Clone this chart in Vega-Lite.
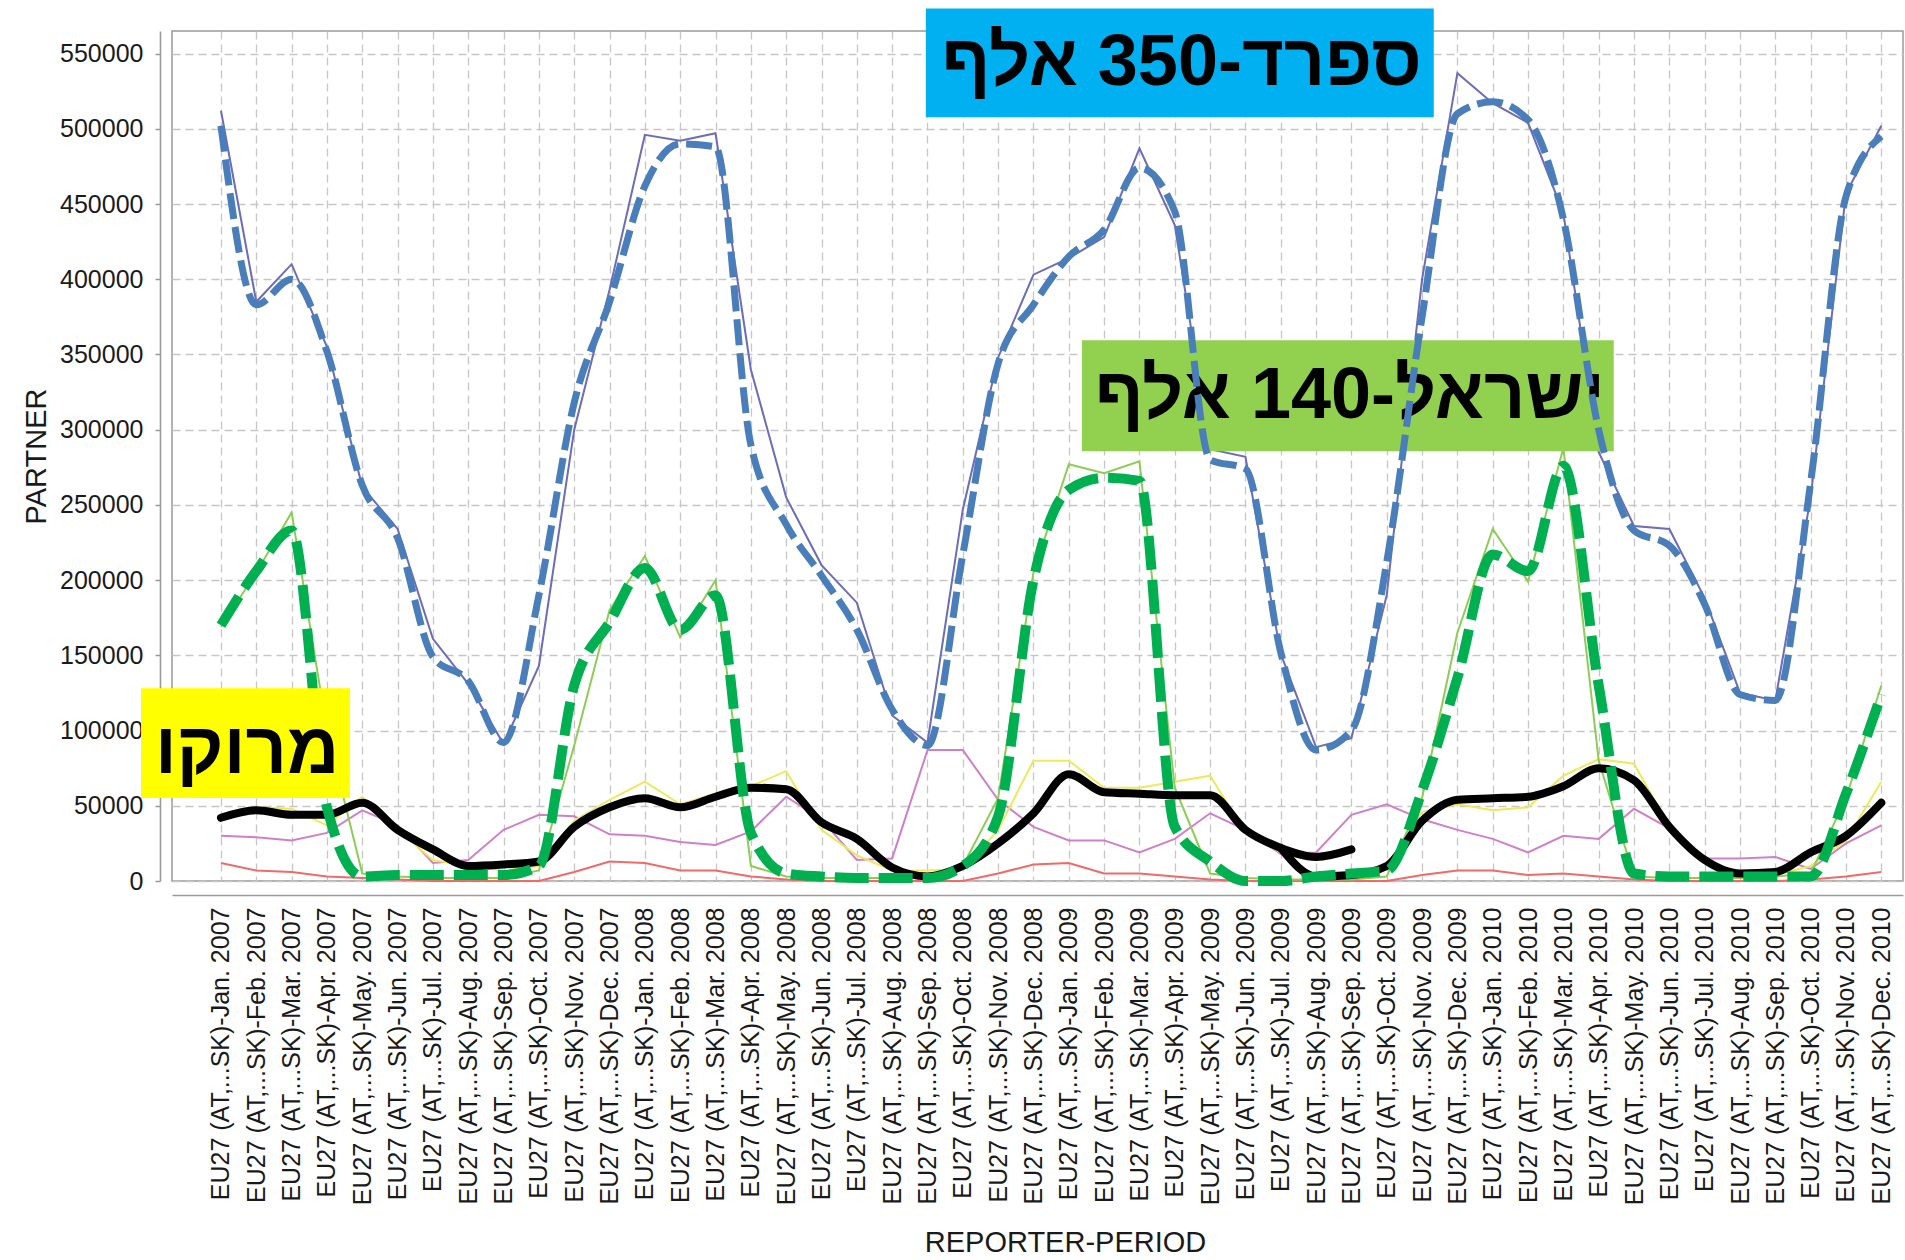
{
  "$schema": "https://vega.github.io/schema/vega-lite/v6.json",
  "width": 1731,
  "height": 850,
  "autosize": {"type": "none"},
  "padding": {"left": 172, "top": 31, "right": 2, "bottom": 379},
  "background": "white",
  "config": {
    "font": "Liberation Sans, Arial, DejaVu Sans, sans-serif",
    "view": {"stroke": "#9a9a9a", "strokeWidth": 1.5},
    "axis": {
      "labelFont": "Liberation Sans, Arial, sans-serif",
      "titleFont": "Liberation Sans, Arial, sans-serif",
      "titleFontWeight": "normal",
      "gridColor": "#c6c6c6",
      "gridDash": [8, 5],
      "gridWidth": 1.3,
      "domainColor": "#9a9a9a",
      "domainWidth": 1.6,
      "tickColor": "#9a9a9a",
      "tickWidth": 1.5,
      "labelColor": "#1a1a1a",
      "titleColor": "#1a1a1a"
    }
  },
  "datasets": {
    "months": [
      {"period": "EU27 (AT,...SK)-Jan. 2007", "es": 512000, "es_d": 502000, "il": 169000, "il_d": 170000, "ma": 42000, "ma2": null, "yel": 43000, "pink": 30000, "red": 12000},
      {"period": "EU27 (AT,...SK)-Feb. 2007", "es": 385000, "es_d": 383000, "il": 205000, "il_d": 206000, "ma": 47000, "ma2": null, "yel": 49000, "pink": 29000, "red": 7000},
      {"period": "EU27 (AT,...SK)-Mar. 2007", "es": 410000, "es_d": 400000, "il": 245000, "il_d": 233000, "ma": 44000, "ma2": null, "yel": 48000, "pink": 27000, "red": 6000},
      {"period": "EU27 (AT,...SK)-Apr. 2007", "es": 355000, "es_d": 352000, "il": 100000, "il_d": 49000, "ma": 44000, "ma2": null, "yel": 37000, "pink": 32000, "red": 3000},
      {"period": "EU27 (AT,...SK)-May. 2007", "es": 262000, "es_d": 263000, "il": 5000, "il_d": 3000, "ma": 52000, "ma2": null, "yel": 56000, "pink": 47000, "red": 2000},
      {"period": "EU27 (AT,...SK)-Jun. 2007", "es": 234000, "es_d": 228000, "il": 3000, "il_d": 4000, "ma": 34000, "ma2": null, "yel": 34000, "pink": 37000, "red": 1000},
      {"period": "EU27 (AT,...SK)-Jul. 2007", "es": 161000, "es_d": 149000, "il": 2000, "il_d": 4000, "ma": 21000, "ma2": null, "yel": 14000, "pink": 12000, "red": 0},
      {"period": "EU27 (AT,...SK)-Aug. 2007", "es": 131000, "es_d": 133000, "il": 2000, "il_d": 4000, "ma": 10000, "ma2": null, "yel": 10000, "pink": 14000, "red": 0},
      {"period": "EU27 (AT,...SK)-Sep. 2007", "es": 91000, "es_d": 92000, "il": 2000, "il_d": 4000, "ma": 11000, "ma2": null, "yel": 7000, "pink": 34000, "red": 0},
      {"period": "EU27 (AT,...SK)-Oct. 2007", "es": 143000, "es_d": 190000, "il": 7000, "il_d": 10000, "ma": 13000, "ma2": null, "yel": 10000, "pink": 44000, "red": 0},
      {"period": "EU27 (AT,...SK)-Nov. 2007", "es": 300000, "es_d": 318000, "il": 90000, "il_d": 130000, "ma": 36000, "ma2": null, "yel": 40000, "pink": 43000, "red": 6000},
      {"period": "EU27 (AT,...SK)-Dec. 2007", "es": 393000, "es_d": 385000, "il": 180000, "il_d": 172000, "ma": 49000, "ma2": null, "yel": 54000, "pink": 31000, "red": 13000},
      {"period": "EU27 (AT,...SK)-Jan. 2008", "es": 496000, "es_d": 462000, "il": 216000, "il_d": 208000, "ma": 55000, "ma2": null, "yel": 66000, "pink": 30000, "red": 12000},
      {"period": "EU27 (AT,...SK)-Feb. 2008", "es": 492000, "es_d": 490000, "il": 162000, "il_d": 167000, "ma": 49000, "ma2": null, "yel": 51000, "pink": 26000, "red": 7000},
      {"period": "EU27 (AT,...SK)-Mar. 2008", "es": 497000, "es_d": 488000, "il": 200000, "il_d": 190000, "ma": 56000, "ma2": null, "yel": 58000, "pink": 24000, "red": 7000},
      {"period": "EU27 (AT,...SK)-Apr. 2008", "es": 340000, "es_d": 290000, "il": 10000, "il_d": 32000, "ma": 62000, "ma2": null, "yel": 63000, "pink": 33000, "red": 3000},
      {"period": "EU27 (AT,...SK)-May. 2008", "es": 255000, "es_d": 237000, "il": 3000, "il_d": 5000, "ma": 61000, "ma2": null, "yel": 73000, "pink": 56000, "red": 1000},
      {"period": "EU27 (AT,...SK)-Jun. 2008", "es": 210000, "es_d": 203000, "il": 2000, "il_d": 3000, "ma": 39000, "ma2": null, "yel": 34000, "pink": 41000, "red": 0},
      {"period": "EU27 (AT,...SK)-Jul. 2008", "es": 185000, "es_d": 167000, "il": 2000, "il_d": 2000, "ma": 28000, "ma2": null, "yel": 17000, "pink": 14000, "red": 0},
      {"period": "EU27 (AT,...SK)-Aug. 2008", "es": 110000, "es_d": 114000, "il": 2000, "il_d": 2000, "ma": 9000, "ma2": null, "yel": 7000, "pink": 15000, "red": 0},
      {"period": "EU27 (AT,...SK)-Sep. 2008", "es": 92000, "es_d": 90000, "il": 3000, "il_d": 2000, "ma": 3000, "ma2": null, "yel": 7000, "pink": 87000, "red": 0},
      {"period": "EU27 (AT,...SK)-Oct. 2008", "es": 247000, "es_d": 217000, "il": 10000, "il_d": 10000, "ma": 10000, "ma2": null, "yel": 8000, "pink": 87000, "red": 0},
      {"period": "EU27 (AT,...SK)-Nov. 2008", "es": 348000, "es_d": 344000, "il": 55000, "il_d": 43000, "ma": 25000, "ma2": null, "yel": 34000, "pink": 54000, "red": 5000},
      {"period": "EU27 (AT,...SK)-Dec. 2008", "es": 403000, "es_d": 383000, "il": 205000, "il_d": 200000, "ma": 45000, "ma2": null, "yel": 80000, "pink": 36000, "red": 11000},
      {"period": "EU27 (AT,...SK)-Jan. 2009", "es": 414000, "es_d": 415000, "il": 277000, "il_d": 260000, "ma": 71000, "ma2": null, "yel": 80000, "pink": 27000, "red": 12000},
      {"period": "EU27 (AT,...SK)-Feb. 2009", "es": 428000, "es_d": 433000, "il": 271000, "il_d": 268000, "ma": 59000, "ma2": null, "yel": 62000, "pink": 27000, "red": 5000},
      {"period": "EU27 (AT,...SK)-Mar. 2009", "es": 487000, "es_d": 474000, "il": 279000, "il_d": 266000, "ma": 58000, "ma2": null, "yel": 62000, "pink": 19000, "red": 5000},
      {"period": "EU27 (AT,...SK)-Apr. 2009", "es": 436000, "es_d": 445000, "il": 62000, "il_d": 36000, "ma": 57000, "ma2": null, "yel": 66000, "pink": 28000, "red": 3000},
      {"period": "EU27 (AT,...SK)-May. 2009", "es": 287000, "es_d": 280000, "il": 5000, "il_d": 13000, "ma": 57000, "ma2": null, "yel": 70000, "pink": 45000, "red": 1000},
      {"period": "EU27 (AT,...SK)-Jun. 2009", "es": 282000, "es_d": 274000, "il": 2000, "il_d": 0, "ma": 34000, "ma2": null, "yel": 32000, "pink": 34000, "red": 0},
      {"period": "EU27 (AT,...SK)-Jul. 2009", "es": 151000, "es_d": 152000, "il": 1000, "il_d": 0, "ma": 22000, "ma2": 22000, "yel": 19000, "pink": 18000, "red": 0},
      {"period": "EU27 (AT,...SK)-Aug. 2009", "es": 89000, "es_d": 87000, "il": 1000, "il_d": 3000, "ma": 16000, "ma2": 3000, "yel": 3000, "pink": 19000, "red": 0},
      {"period": "EU27 (AT,...SK)-Sep. 2009", "es": 95000, "es_d": 100000, "il": 1000, "il_d": 5000, "ma": 21000, "ma2": 4000, "yel": 3000, "pink": 44000, "red": 0},
      {"period": "EU27 (AT,...SK)-Oct. 2009", "es": 190000, "es_d": 212000, "il": 3000, "il_d": 7000, "ma": null, "ma2": 10000, "yel": 10000, "pink": 51000, "red": 0},
      {"period": "EU27 (AT,...SK)-Nov. 2009", "es": 400000, "es_d": 375000, "il": 55000, "il_d": 60000, "ma": null, "ma2": 40000, "yel": 46000, "pink": 41000, "red": 4000},
      {"period": "EU27 (AT,...SK)-Dec. 2009", "es": 537000, "es_d": 510000, "il": 165000, "il_d": 135000, "ma": null, "ma2": 54000, "yel": 51000, "pink": 34000, "red": 7000},
      {"period": "EU27 (AT,...SK)-Jan. 2010", "es": 517000, "es_d": 518000, "il": 234000, "il_d": 217000, "ma": null, "ma2": 55000, "yel": 47000, "pink": 28000, "red": 7000},
      {"period": "EU27 (AT,...SK)-Feb. 2010", "es": 504000, "es_d": 506000, "il": 199000, "il_d": 206000, "ma": null, "ma2": 56000, "yel": 49000, "pink": 19000, "red": 4000},
      {"period": "EU27 (AT,...SK)-Mar. 2010", "es": 444000, "es_d": 440000, "il": 288000, "il_d": 276000, "ma": null, "ma2": 63000, "yel": 70000, "pink": 30000, "red": 5000},
      {"period": "EU27 (AT,...SK)-Apr. 2010", "es": 285000, "es_d": 300000, "il": 80000, "il_d": 130000, "ma": null, "ma2": 75000, "yel": 81000, "pink": 28000, "red": 3000},
      {"period": "EU27 (AT,...SK)-May. 2010", "es": 236000, "es_d": 233000, "il": 3000, "il_d": 5000, "ma": null, "ma2": 67000, "yel": 78000, "pink": 48000, "red": 1000},
      {"period": "EU27 (AT,...SK)-Jun. 2010", "es": 234000, "es_d": 223000, "il": 2000, "il_d": 3000, "ma": null, "ma2": 36000, "yel": 36000, "pink": 35000, "red": 0},
      {"period": "EU27 (AT,...SK)-Jul. 2010", "es": 188000, "es_d": 184000, "il": 2000, "il_d": 3000, "ma": null, "ma2": 14000, "yel": 14000, "pink": 15000, "red": 0},
      {"period": "EU27 (AT,...SK)-Aug. 2010", "es": 125000, "es_d": 124000, "il": 2000, "il_d": 3000, "ma": null, "ma2": 5000, "yel": 5000, "pink": 15000, "red": 0},
      {"period": "EU27 (AT,...SK)-Sep. 2010", "es": 120000, "es_d": 120000, "il": 3000, "il_d": 3000, "ma": null, "ma2": 6000, "yel": 4000, "pink": 16000, "red": 0},
      {"period": "EU27 (AT,...SK)-Oct. 2010", "es": 255000, "es_d": 265000, "il": 5000, "il_d": 3000, "ma": null, "ma2": 19000, "yel": 10000, "pink": 8000, "red": 1000},
      {"period": "EU27 (AT,...SK)-Nov. 2010", "es": 457000, "es_d": 455000, "il": 55000, "il_d": 58000, "ma": null, "ma2": 30000, "yel": 27000, "pink": 25000, "red": 3000},
      {"period": "EU27 (AT,...SK)-Dec. 2010", "es": 502000, "es_d": 495000, "il": 130000, "il_d": 124000, "ma": null, "ma2": 52000, "yel": 66000, "pink": 37000, "red": 6000}
    ],
    "notes": [
      {"name": "spain", "label": "ספרד-350 אלף", "x1": 19.32, "x2": 34.42, "y1": 507600, "y2": 580000, "tx": 26.93, "ty": 543500},
      {"name": "israel", "label": "ישראל-140 אלף", "x1": 23.96, "x2": 39.77, "y1": 285700, "y2": 359500, "tx": 31.93, "ty": 322300},
      {"name": "morocco", "label": "מרוקו", "x1": -4.01, "x2": 2.2, "y1": 55150, "y2": 128200, "tx": -0.86, "ty": 86400}
    ]
  },
  "layer": [
    {
      "data": {"name": "months"},
      "encoding": {
        "x": {
          "field": "period", "type": "ordinal", "sort": null,
          "scale": {"type": "point", "padding": 2.23, "align": 0.693},
          "axis": {
            "title": "REPORTER-PERIOD", "labelAngle": -90, "labelFontSize": 25, "labelPadding": 12,
            "labelLimit": 500, "labelOverlap": false, "ticks": false, "offset": 14, "grid": true,
            "titleFontSize": 29, "titleX": 893, "titleY": 333, "titleBaseline": "top"
          }
        }
      },
      "layer": [
        {"mark": {"type": "line", "color": "#f06a6a", "strokeWidth": 2},
         "encoding": {"y": {"field": "red", "type": "quantitative", "scale": {"domain": [0, 565000], "nice": false},
           "axis": {"title": "PARTNER", "values": [0, 50000, 100000, 150000, 200000, 250000, 300000, 350000, 400000, 450000, 500000, 550000],
             "format": "d", "labelFontSize": 25, "tickSize": 5, "labelPadding": 12, "offset": 12, "grid": true,
             "titleFontSize": 29, "titlePadding": 8}}}},
        {"mark": {"type": "line", "color": "#cf80c9", "strokeWidth": 2},
         "encoding": {"y": {"field": "pink", "type": "quantitative", "scale": {"domain": [0, 565000], "nice": false}}}},
        {"mark": {"type": "line", "color": "#efe95a", "strokeWidth": 2},
         "encoding": {"y": {"field": "yel", "type": "quantitative", "scale": {"domain": [0, 565000], "nice": false}}}},
        {"mark": {"type": "line", "color": "#8fcc55", "strokeWidth": 2},
         "encoding": {"y": {"field": "il", "type": "quantitative", "scale": {"domain": [0, 565000], "nice": false}}}},
        {"mark": {"type": "line", "color": "#6c6cb8", "strokeWidth": 2},
         "encoding": {"y": {"field": "es", "type": "quantitative", "scale": {"domain": [0, 565000], "nice": false}}}},
        {"mark": {"type": "line", "color": "#000000", "strokeWidth": 8, "interpolate": "monotone", "strokeCap": "round", "strokeJoin": "round"},
         "encoding": {"y": {"field": "ma", "type": "quantitative", "scale": {"domain": [0, 565000], "nice": false}}}},
        {"mark": {"type": "line", "color": "#000000", "strokeWidth": 8, "interpolate": "monotone", "strokeCap": "round", "strokeJoin": "round"},
         "encoding": {"y": {"field": "ma2", "type": "quantitative", "scale": {"domain": [0, 565000], "nice": false}}}},
        {"mark": {"type": "line", "color": "#00b050", "strokeWidth": 10, "strokeDash": [34, 10], "interpolate": "monotone"},
         "encoding": {"y": {"field": "il_d", "type": "quantitative", "scale": {"domain": [0, 565000], "nice": false}}}}
      ]
    },
    {
      "data": {"name": "notes"},
      "layer": [
        {"mark": {"type": "rect"},
         "encoding": {
           "x": {"field": "x1", "type": "quantitative", "scale": {"domain": [-3.0903, 48.369], "nice": false, "zero": false}, "axis": null},
           "x2": {"field": "x2"},
           "y": {"field": "y1", "type": "quantitative", "scale": {"domain": [0, 565000], "nice": false}},
           "y2": {"field": "y2"},
           "color": {"field": "name", "type": "nominal", "scale": {"domain": ["spain", "israel", "morocco"], "range": ["#00b0f0", "#92d050", "#ffff00"]}, "legend": null}
         }},
        {"mark": {"type": "text", "fontSize": 72, "fontWeight": "bold", "font": "Liberation Sans, Arial, DejaVu Sans, sans-serif", "color": "#000000", "align": "center", "baseline": "middle"},
         "encoding": {
           "x": {"field": "tx", "type": "quantitative", "scale": {"domain": [-3.0903, 48.369], "nice": false, "zero": false}, "axis": null},
           "y": {"field": "ty", "type": "quantitative", "scale": {"domain": [0, 565000], "nice": false}},
           "text": {"field": "label"}
         }}
      ]
    },
    {
      "data": {"name": "months"},
      "mark": {"type": "line", "color": "#4a7ebb", "strokeWidth": 7, "strokeDash": [26, 8], "interpolate": "monotone"},
      "encoding": {
        "x": {"field": "period", "type": "ordinal", "sort": null, "scale": {"type": "point", "padding": 2.23, "align": 0.693}, "axis": null},
        "y": {"field": "es_d", "type": "quantitative", "scale": {"domain": [0, 565000], "nice": false}}
      }
    }
  ],
  "resolve": {"scale": {"x": "independent"}, "axis": {"x": "independent"}}
}
